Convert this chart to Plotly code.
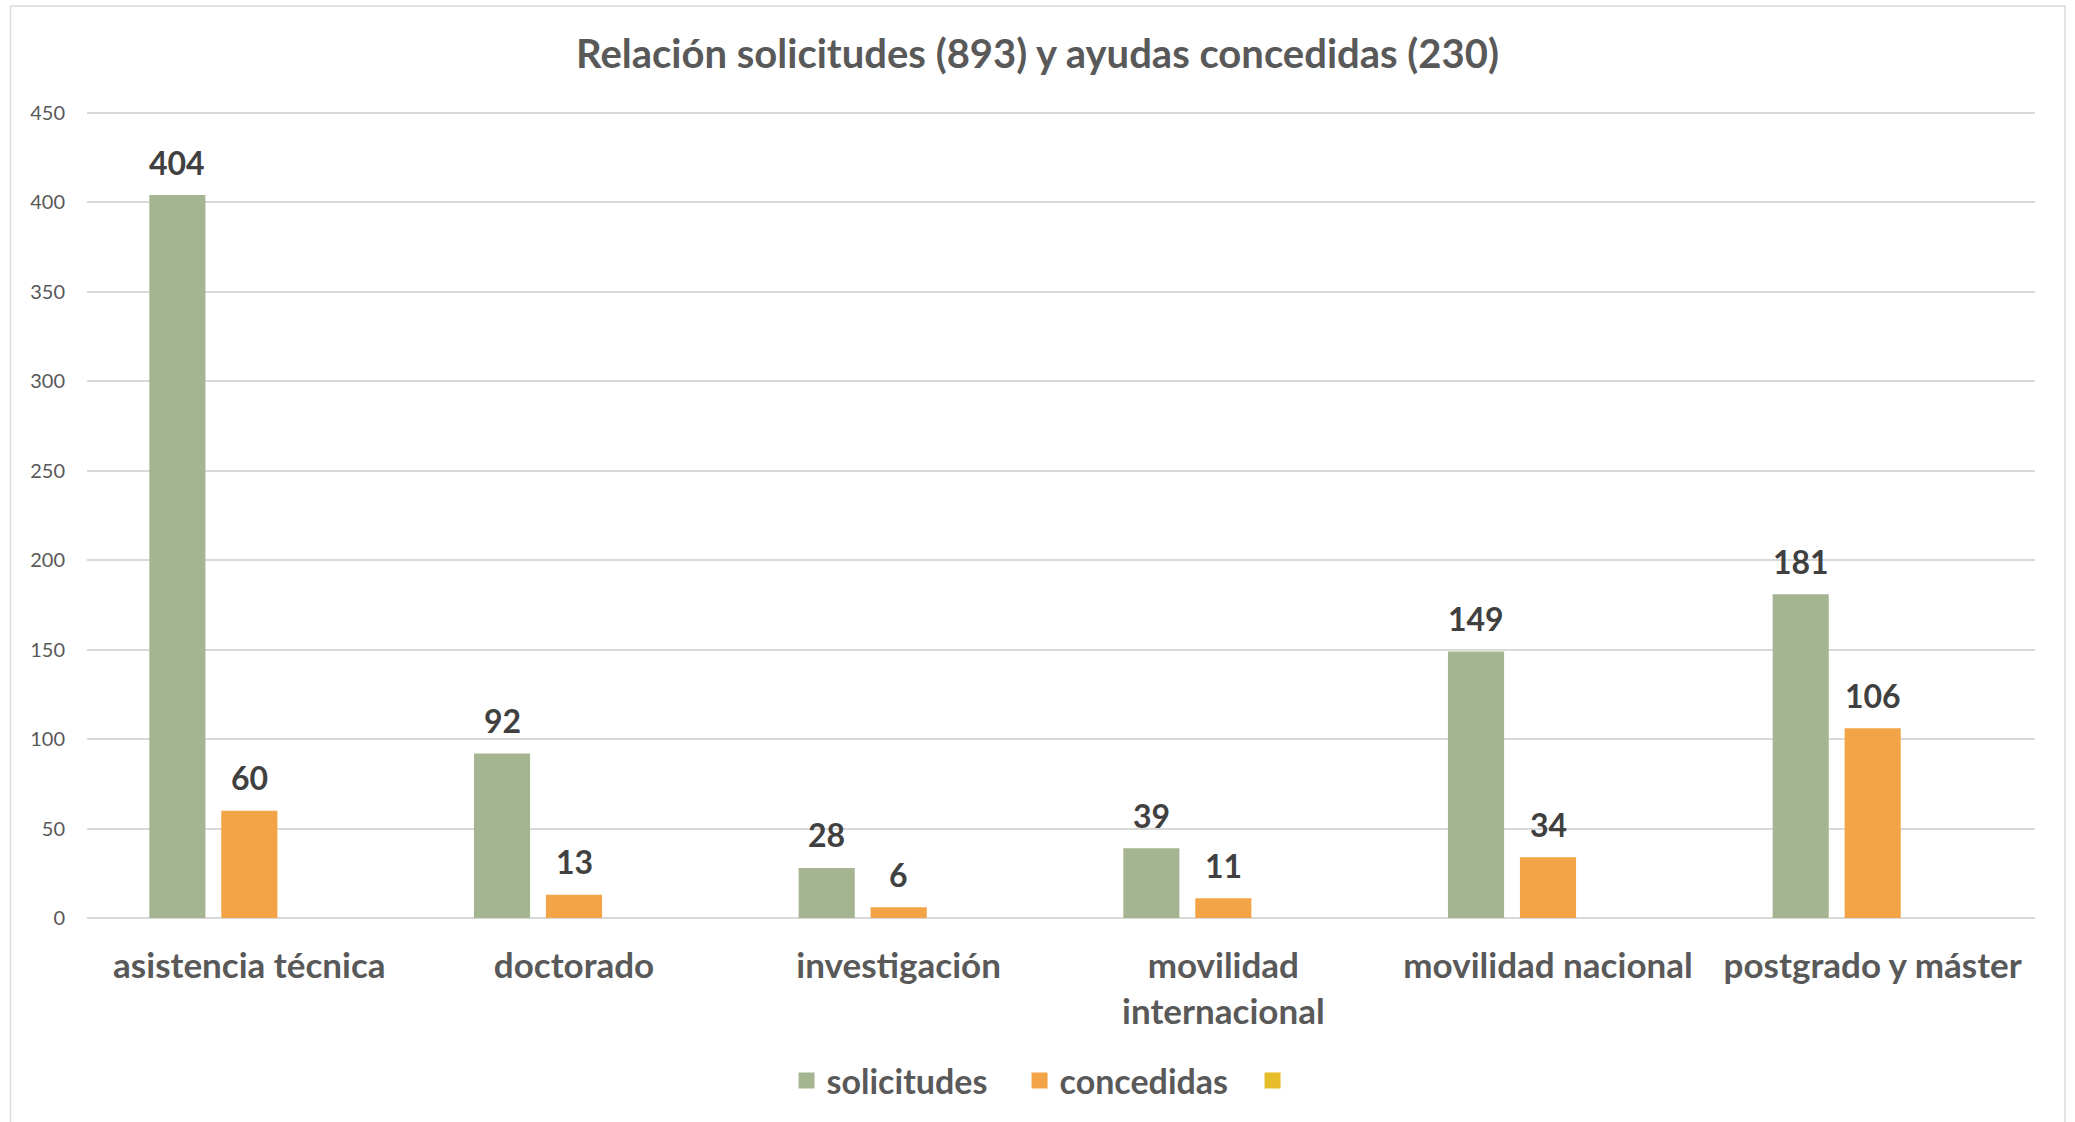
import plotly.graph_objects as go

categories = ["asistencia técnica", "doctorado", "investigación",
              "movilidad<br>internacional", "movilidad nacional", "postgrado y máster"]
solicitudes = [404, 92, 28, 39, 149, 181]
concedidas = [60, 13, 6, 11, 34, 106]
tercera = [None, None, None, None, None, None]

series_names = ["solicitudes", "concedidas", " "]
series_values = [solicitudes, concedidas, tercera]
series_colors = ["#A5B592", "#F3A447", "#E7BC29"]

title_text = "Relación solicitudes (893) y ayudas concedidas (230)"
y_ticks = [0, 50, 100, 150, 200, 250, 300, 350, 400, 450]

FONT = "Lato"
W, H = 2075, 1122
ML, MR, MT, MB = 87, 40, 111, 204
BARGAP = 0.335
BARGROUPGAP = 0.22

fig = go.Figure()
for k, (name, vals, col) in enumerate(zip(series_names, series_values, series_colors)):
    fig.add_trace(go.Bar(
        x=categories, y=vals, name=name, legendgroup=f"g{k}", showlegend=False,
        marker=dict(color=col, line=dict(width=0)),
        hoverinfo="x+y+name",
    ))
# legend entries with larger square swatches
for k, (name, col) in enumerate(zip(series_names, series_colors)):
    fig.add_trace(go.Scatter(
        x=[None], y=[None], mode="markers", name=name, legendgroup=f"g{k}",
        marker=dict(symbol="square", size=16, color=col), showlegend=True,
    ))

# data labels above bars
n = len(series_names)
slot = (1 - BARGAP) / n
annotations = []
for k, vals in enumerate(series_values):
    off = (k - (n - 1) / 2) * slot
    for i, v in enumerate(vals):
        if v is None:
            continue
        annotations.append(dict(
            x=i + off, y=v, xref="x", yref="y", text=f"<b>{v}</b>",
            showarrow=False, yanchor="middle", yshift=33,
            font=dict(family=FONT, size=32, color="#404040"),
        ))

fig.update_layout(
    width=W, height=H,
    margin=dict(l=ML, r=MR, t=MT, b=MB),
    paper_bgcolor="white", plot_bgcolor="white",
    barmode="group", bargap=BARGAP, bargroupgap=BARGROUPGAP,
    title=dict(text=f"<b>{title_text}</b>", x=0.5, xref="container",
               y=1 - 54 / H, yref="container", yanchor="middle", xanchor="center",
               font=dict(family=FONT, size=40, color="#595959")),
    font=dict(family=FONT, color="#595959"),
    legend=dict(orientation="h", x=0.5475, xref="container", xanchor="center",
                y=1 - 1081 / H, yref="container", yanchor="middle",
                font=dict(family=FONT, size=34, color="#595959", weight="bold"),
                itemwidth=30, traceorder="normal",
                entrywidth=188, entrywidthmode="pixels"),
    annotations=annotations,
    xaxis=dict(showgrid=False, showline=False, zeroline=False,
               tickfont=dict(family=FONT, size=35, color="#595959", weight="bold"),
               ticklabelstandoff=24, fixedrange=True),
    yaxis=dict(range=[0, 451], tickvals=y_ticks, showgrid=True,
               gridcolor="#D9D9D9", gridwidth=1.5, zeroline=True,
               zerolinecolor="#D9D9D9", zerolinewidth=1.5, showline=False,
               tickfont=dict(family=FONT, size=20, color="#595959"),
               ticklabelstandoff=21, fixedrange=True),
    shapes=[dict(type="rect", xref="paper", yref="paper",
                 x0=(10.5 - ML) / (W - ML - MR), x1=(2065 - ML) / (W - ML - MR),
                 y0=-0.3, y1=(H - MB - 6) / (H - MT - MB),
                 line=dict(color="#D9D9D9", width=1.5), layer="below")],
)

fig.write_html("out.html", config={"displayModeBar": False},
               post_script="document.body.style.margin='0';")
